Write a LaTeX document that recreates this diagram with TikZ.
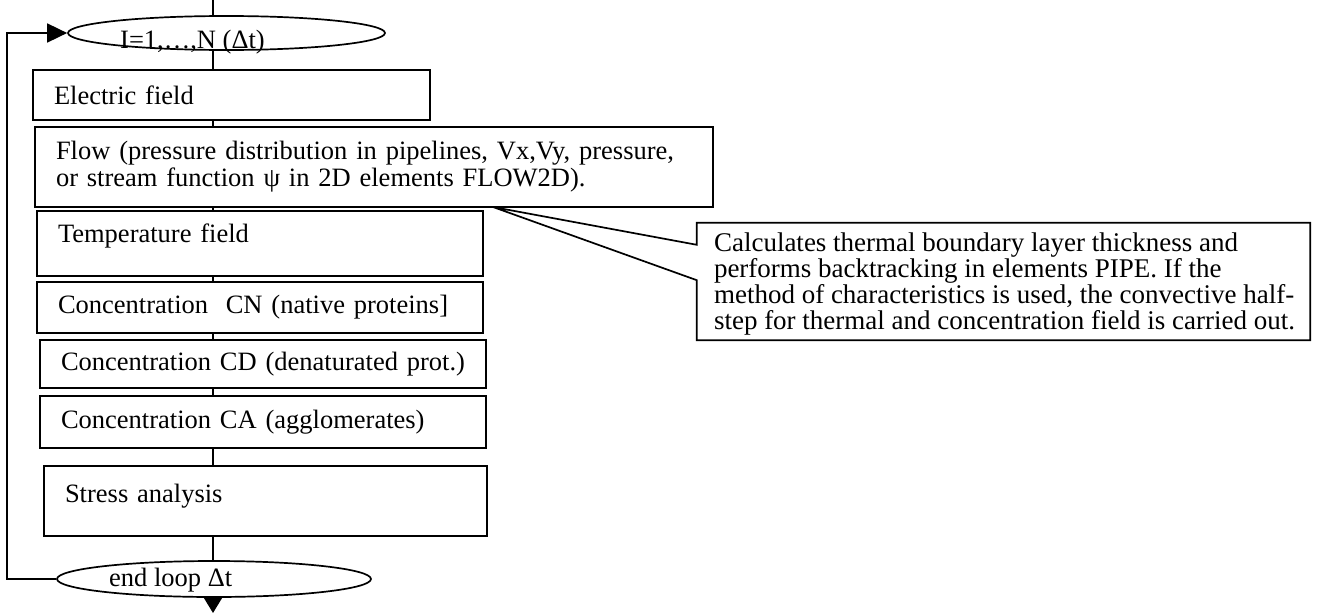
\documentclass[tikz,border=0pt]{standalone}
\usepackage{fontspec}
\setmainfont{Liberation Serif}
\usetikzlibrary{arrows.meta,shapes.geometric}
\begin{document}
\begin{tikzpicture}[x=1pt,y=-1pt,
  every node/.style={font=\fontsize{26.5}{27}\selectfont},
  box/.style={draw, line width=1.7pt, rectangle, inner xsep=21pt, inner ysep=0pt, align=left},
  ell/.style={draw, line width=1.7pt, ellipse, inner sep=0pt},
  lbl/.style={anchor=base west, inner sep=0pt},
  conn/.style={line width=1.7pt},
  looparrow/.style={-{Triangle[length=20pt,width=19pt]}},
  outarrow/.style={-{Triangle[length=16pt,width=19pt]}}
]
\useasboundingbox (0,0) rectangle (1319,613);

% loop ellipses
\node[ell, minimum width=317pt, minimum height=34pt] (e1) at (226.5,33) {};
\node[lbl] (t1) at (120,48) {I=1,…,N (Δt)};
\node[ell, minimum width=314pt, minimum height=36pt] (e2) at (214,579) {};
\node[lbl] (t2) at (109,586) {end loop Δt};

% process boxes
\node[box, text width=355pt, minimum height=50pt] (elec) at (231.5,95) {Electric field};
\node[box, text width=636pt, minimum height=80pt] (flow) at (374,167)
  {Flow (pressure distribution in pipelines, Vx,Vy, pressure,\\or stream function ψ in 2D elements FLOW2D).};
\node[box, text width=404pt, minimum height=65pt, text depth=20pt] (temp) at (260,243.5) {Temperature field};
\node[box, text width=404pt, minimum height=51pt] (cn) at (260,307.5) {Concentration\ \ CN (native proteins]};
\node[box, text width=404pt, minimum height=48pt] (cd) at (263,364) {Concentration CD (denaturated prot.)};
\node[box, text width=404pt, minimum height=52pt] (ca) at (263,422) {Concentration CA (agglomerates)};
\node[box, text width=401pt, minimum height=70pt, text depth=16pt] (stress) at (265.5,501) {Stress analysis};

% callout
\node[inner sep=0pt, minimum width=613pt, minimum height=117pt,
      font=\fontsize{27}{26.3}\selectfont] (call) at (1003.5,281.5)
  {\hspace*{17pt}\parbox[c][117pt][t]{596pt}{\raggedright\rule{0pt}{28pt}Calculates thermal boundary layer thickness and\\
   performs backtracking in elements PIPE. If the\\
   method of characteristics is used, the convective half-\\
   step for thermal and concentration field is carried out.}};
\coordinate (tip) at (493,207);
\draw[conn, line join=miter] (call.north west) -- (call.north east) -- (call.south east) -- (call.south west)
  -- ([yshift=60pt]call.south west) -- (tip) -- ([yshift=-22pt]call.north west) -- cycle;

% connectors
\coordinate (cx) at (213,0);
\coordinate (out) at (213,613);
\coordinate (lx) at (7,0);
\draw[conn] (cx) -- (e1.north -| cx);
\draw[conn] (e1.south -| cx) -- (elec.north -| cx);
\draw[conn] (elec.south -| cx) -- (flow.north -| cx);
\draw[conn] (flow.south -| cx) -- (temp.north -| cx);
\draw[conn] (temp.south -| cx) -- (cn.north -| cx);
\draw[conn] (cn.south -| cx) -- (cd.north -| cx);
\draw[conn] (cd.south -| cx) -- (ca.north -| cx);
\draw[conn] (ca.south -| cx) -- (stress.north -| cx);
\draw[conn] (stress.south -| cx) -- (e2.north -| cx);
\draw[conn, outarrow] (e2.south -| cx) -- (out);
\draw[conn, looparrow] (e2.west) -- (e2.west -| lx) -- (e1.west -| lx) -- (e1.west);
\end{tikzpicture}
\end{document}
